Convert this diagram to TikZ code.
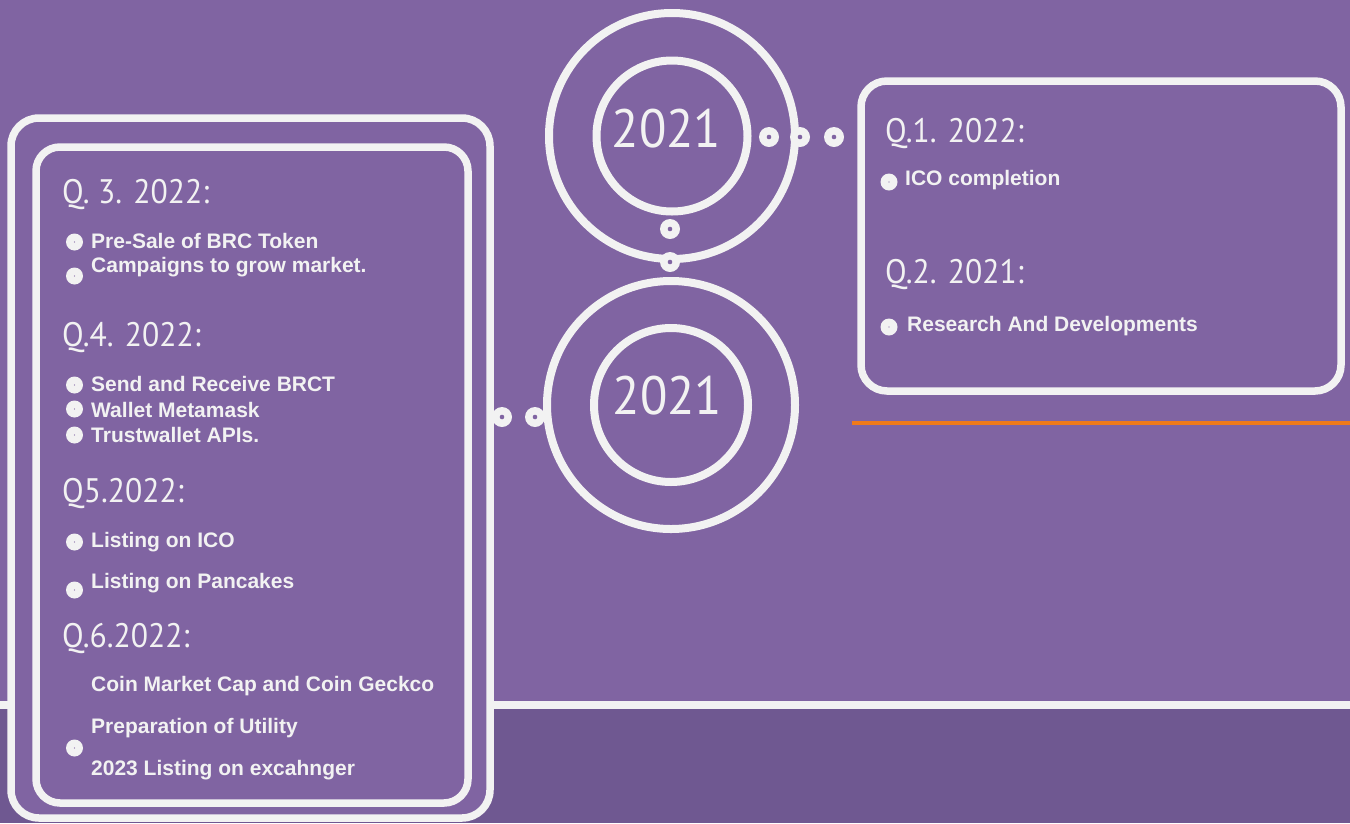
\documentclass[tikz,border=0pt]{standalone}
\usepackage{fontspec}
\setmainfont{Liberation Sans}
\newfontfamily\headfont[FakeStretch=0.93]{PT Sans}
\definecolor{bgp}{HTML}{8064A2}
\definecolor{bgd}{HTML}{6F5891}
\definecolor{wht}{HTML}{F2F2F2}
\definecolor{org}{HTML}{F07A1A}
\begin{document}
\begin{tikzpicture}[x=1pt,y=-1pt,
 frame/.style={draw=wht,line width=7.5pt,fill=bgp},
 ring/.style={draw=wht,line width=8pt},
 head/.style={anchor=base west,inner sep=0pt,text=wht,font=\headfont\fontsize{34}{40}\selectfont},
 item/.style={anchor=base west,inner sep=0pt,text=wht,font=\bfseries\fontsize{21}{25}\selectfont},
 yr/.style={text=wht,inner sep=0pt,font=\headfont\fontsize{54}{60}\selectfont},
 bul/.style={circle,fill=wht,minimum size=17pt,inner sep=0pt,
   path picture={\fill[bgp] (path picture bounding box.center) circle (0.7pt);}},
 knob/.style={circle,fill=wht,minimum size=20pt,inner sep=0pt,
   path picture={\fill[bgp] (path picture bounding box.center) circle (2.3pt);}}
]
\useasboundingbox (0,0) rectangle (1350,823);
% background
\fill[bgp] (0,0) rectangle (1350,823);
\fill[bgd] (0,709) rectangle (1350,823);
\coordinate (hl) at (0,705);
\coordinate (hr) at (1350,705);
\draw[wht,line width=8pt] (hl) -- (hr);
\coordinate (ol) at (852,423);
\coordinate (or) at (1350,423);
\draw[org,line width=4pt] (ol) -- (or);

% left boxes
\draw[frame,rounded corners=28pt] (11,118) rectangle (490,818);
\draw[frame,rounded corners=24pt] (36,147) rectangle (468,803);
% right box
\draw[frame,rounded corners=26pt] (861,81) rectangle (1341,391);

% circles
\node[circle,ring,minimum size=246pt,inner sep=0pt] (c1o) at (672,136) {};
\node[circle,ring,minimum size=151pt,inner sep=0pt] (c1i) at (672,136) {};
\node[circle,ring,minimum size=248pt,inner sep=0pt] (c2o) at (671,405) {};
\node[circle,ring,minimum size=154pt,inner sep=0pt] (c2i) at (671,405) {};
\node[yr] (y1) at (666.5,128.5) {2021};
\node[yr] (y2) at (667.5,395.5) {2021};

% knobs
\node[knob] (k1) at (769,137) {};
\node[knob] (k2) at (800,137) {};
\node[knob] (k3) at (834,137) {};
\node[knob] (k4) at (670,229) {};
\node[knob] (k5) at (670,262) {};
\node[knob] (k6) at (502,417) {};
\node[knob] (k7) at (535,417) {};

% right box text
\node[head] (q1) at (885,142) {Q.1. 2022:};
\node[bul] (rb1) at (889,182) {};
\node[item] (r1) at (905,185) {ICO completion};
\node[head] (q2) at (885,283) {Q.2. 2021:};
\node[bul] (rb2) at (889,327) {};
\node[item] (r2) at (907,331) {Research And Developments};

% left box text
\node[head] (q3) at (62,203) {Q. 3. 2022:};
\node[bul] (lb1) at (74.5,242) {};
\node[item] (l1) at (91,248) {Pre-Sale of BRC Token};
\node[bul] (lb2) at (74.5,276) {};
\node[item] (l2) at (91,272) {Campaigns to grow market.};

\node[head] (q4) at (62,346) {Q.4. 2022:};
\node[bul] (lb3) at (74.5,385) {};
\node[item] (l3) at (91,391) {Send and Receive BRCT};
\node[bul] (lb4) at (74.5,409) {};
\node[item] (l4) at (91,417) {Wallet Metamask};
\node[bul] (lb5) at (74.5,435) {};
\node[item] (l5) at (91,442) {Trustwallet APIs.};

\node[head] (q5) at (62,502) {Q5.2022:};
\node[bul] (lb6) at (74.5,542) {};
\node[item] (l6) at (91,547) {Listing on ICO};
\node[bul] (lb7) at (74.5,590) {};
\node[item] (l7) at (91,588) {Listing on Pancakes};

\node[head] (q6) at (62,647) {Q.6.2022:};
\node[item] (l8) at (91,691) {Coin Market Cap and Coin Geckco};
\node[item] (l9) at (91,733) {Preparation of Utility};
\node[bul] (lb8) at (74.5,748) {};
\node[item] (l10) at (91,775) {2023 Listing on excahnger};
\end{tikzpicture}
\end{document}
